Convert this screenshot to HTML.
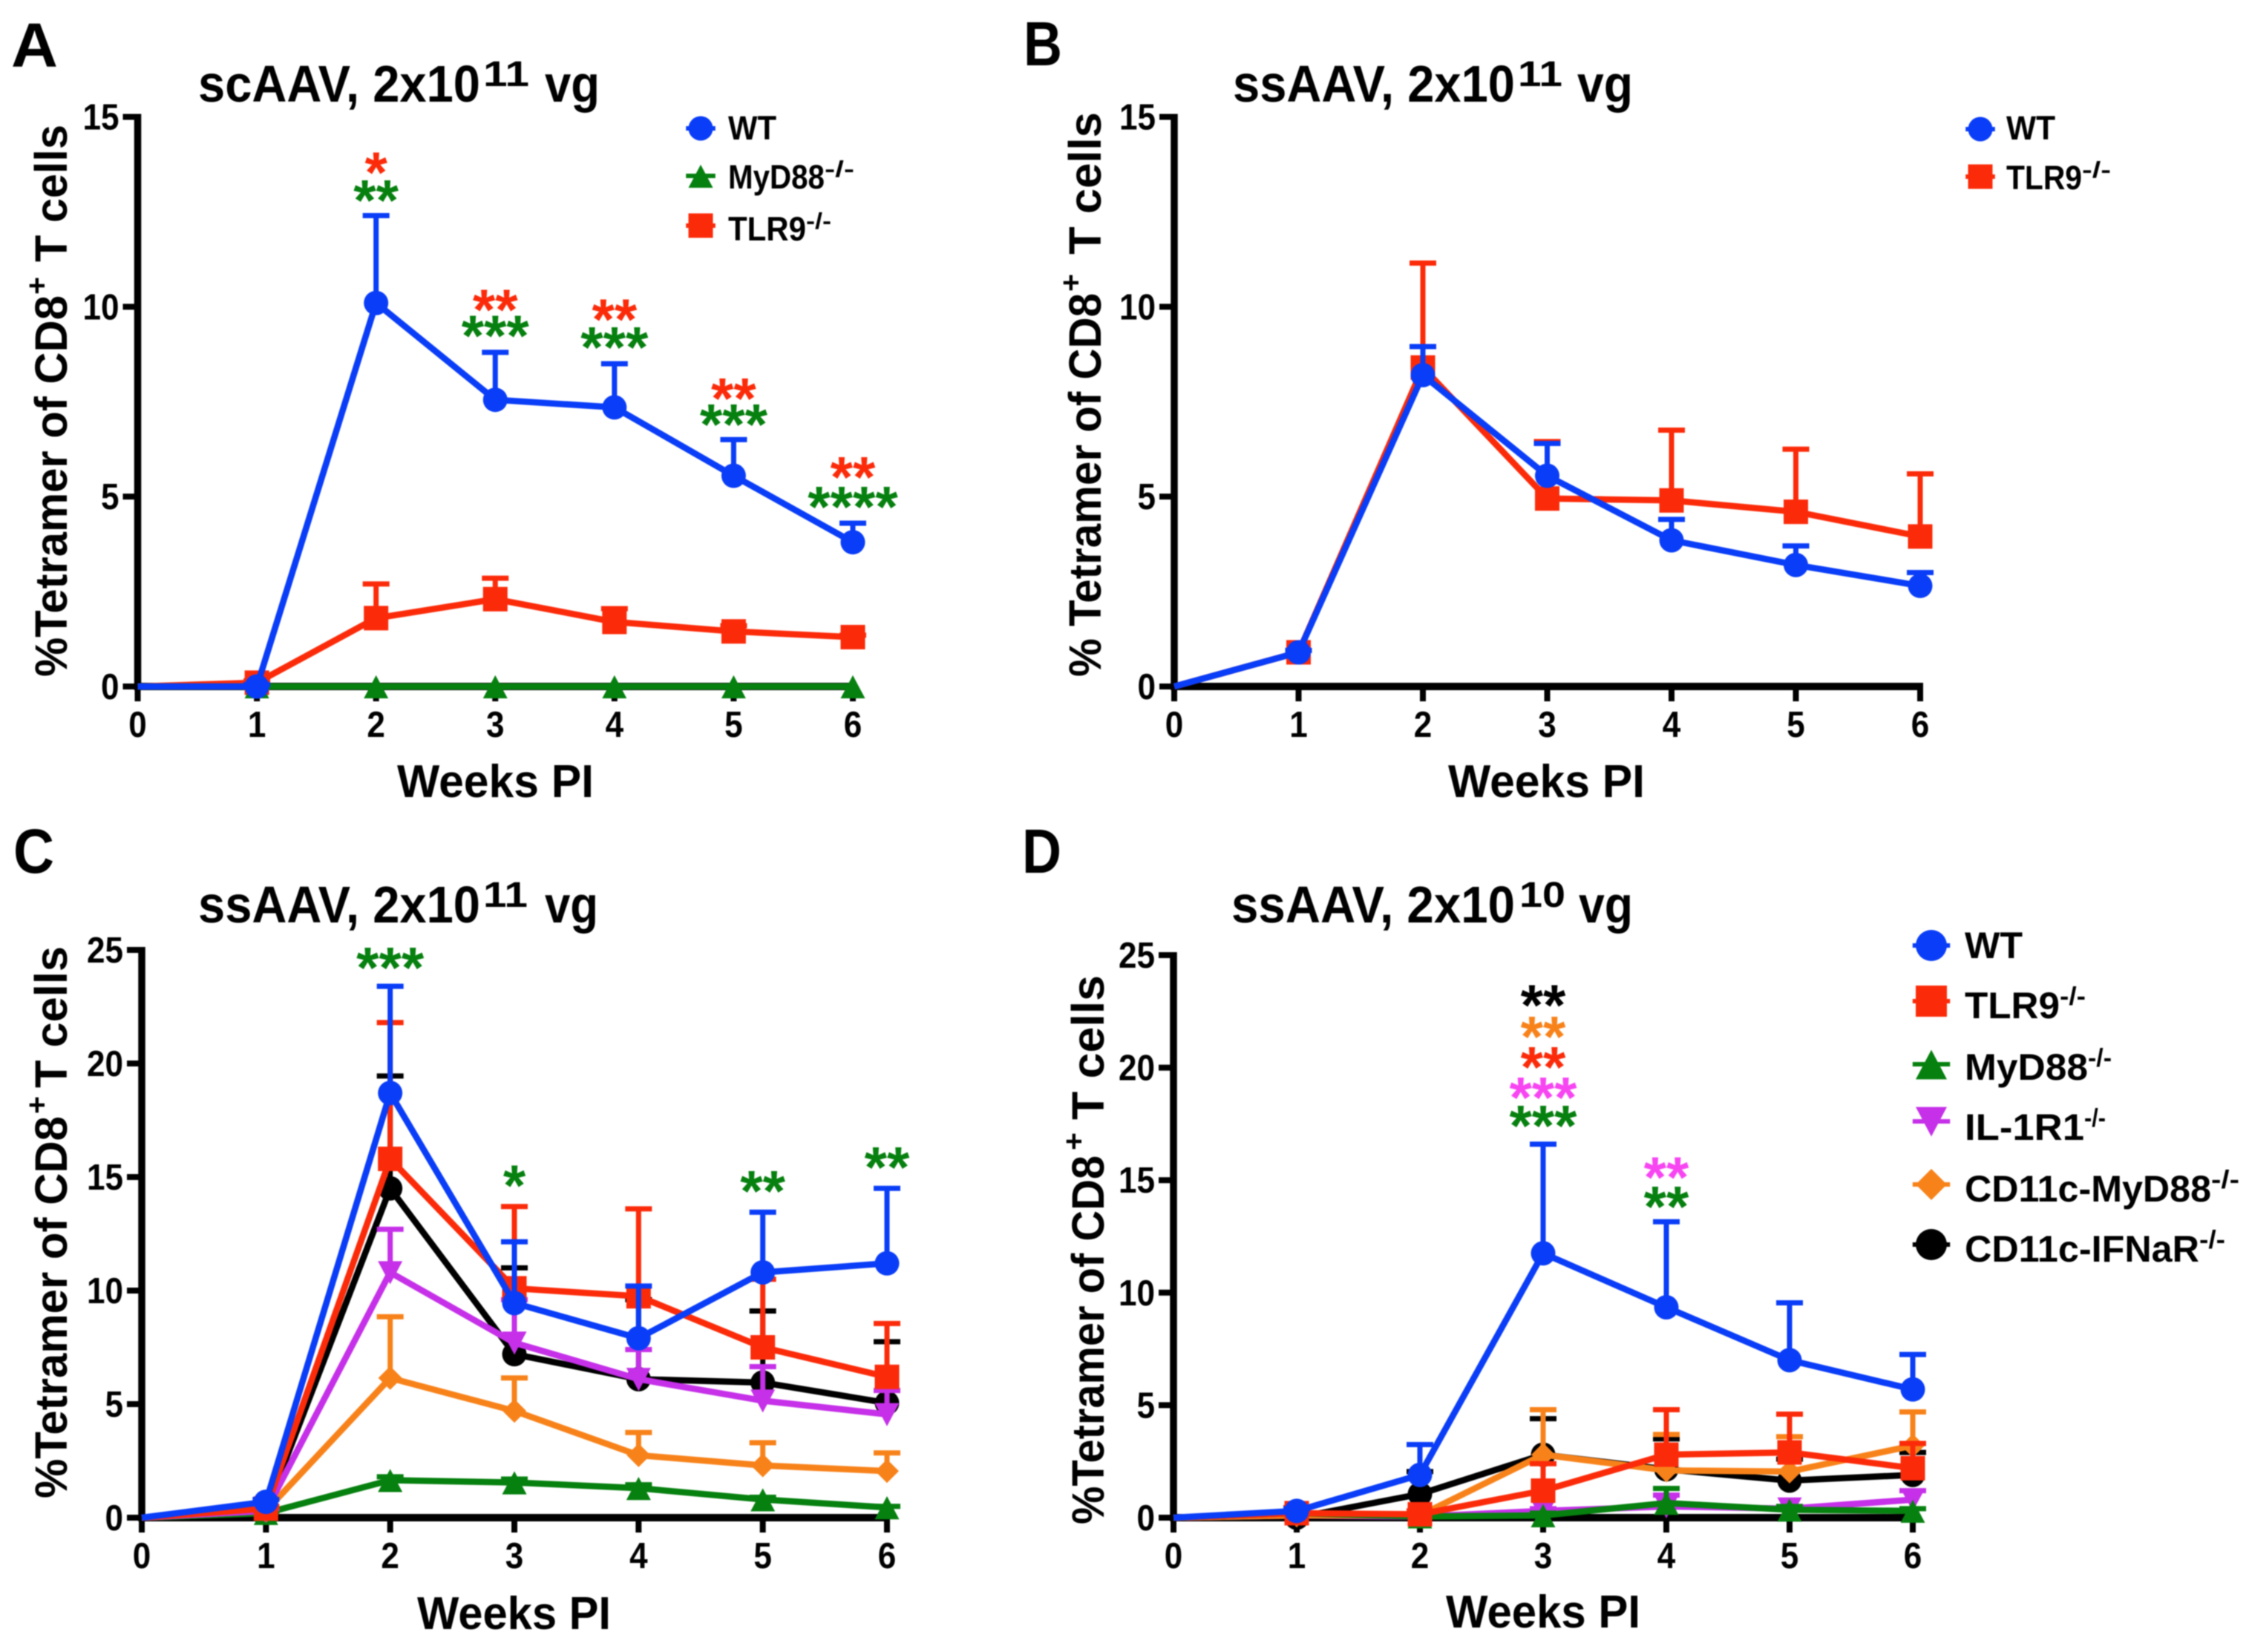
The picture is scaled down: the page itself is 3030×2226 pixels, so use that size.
<!DOCTYPE html>
<html lang="en">
<head>
<meta charset="utf-8">
<title>Tetramer of CD8+ T cells panels</title>
<style>
html,body{margin:0;padding:0;background:#fff;}
svg{display:block;filter:blur(0.8px);}
text{font-family:"Liberation Sans",sans-serif;font-weight:bold;}
</style>
</head>
<body>
<svg id="figure" xmlns="http://www.w3.org/2000/svg" width="3030" height="2226" viewBox="0 0 3030 2226">
<rect width="3030" height="2226" fill="#fff"/>
</svg>
<script>
/* ---------- shared data ---------- */
const weeks = [0,1,2,3,4,5,6];
const yTicksAB = [0,5,10,15];
const yTicksCD = [0,5,10,15,20,25];

/* ---------- panel A ---------- */
const aWT = [0,0,10.1,7.55,7.35,5.55,3.8];
const aWTUpper = [null,0.05,12.4,8.8,8.5,6.5,4.3];
const aTLR9 = [0,0.1,1.8,2.3,1.7,1.45,1.3];
const aTLR9Upper = [null,0.15,2.7,2.85,2.05,1.6,1.35];
const aMyD88 = [0,0,0,0,0,0,0];
const aMyD88Upper = [null,null,null,null,null,null,null];
const aStarWeeks = [2,2,3,3,4,4,5,5,6,6];
const aStarValues = [13.7,12.97,10.08,9.4,9.83,9.1,7.75,7.07,5.68,4.9];
const aStarLabels = ['*','**','**','***','**','***','**','***','**','****'];
const aStarGroups = ['r','g','r','g','r','g','r','g','r','g'];

/* ---------- panel B ---------- */
const bTLR9 = [0,0.9,8.4,4.95,4.9,4.6,3.95];
const bTLR9Upper = [null,0.95,11.15,6.45,6.75,6.25,5.6];
const bWT = [0,0.9,8.2,5.55,3.85,3.2,2.65];
const bWTUpper = [null,0.95,8.95,6.4,4.4,3.7,3.0];

/* ---------- panel C ---------- */
const cWT = [0,0.7,18.7,9.45,7.9,10.8,11.2];
const cWTUpper = [null,0.8,23.4,12.15,10.2,13.45,14.5];
const cTLR9 = [0,0.4,15.8,10.1,9.75,7.5,6.2];
const cTLR9Upper = [null,0.5,21.8,13.7,13.6,10.5,8.55];
const cIFNaR = [0,0.3,14.5,7.2,6.1,5.95,5.05];
const cIFNaRUpper = [null,0.4,19.45,11.0,9.6,9.1,7.75];
const cIL1R1 = [0,0.3,10.8,7.7,6.1,5.15,4.55];
const cIL1R1Upper = [null,0.4,12.7,9.6,7.4,6.65,5.6];
const cCD11cMyD88 = [0,0.3,6.15,4.7,2.75,2.3,2.05];
const cCD11cMyD88Upper = [null,0.4,8.85,6.15,3.75,3.3,2.85];
const cMyD88 = [0,0.2,1.65,1.55,1.3,0.8,0.45];
const cMyD88Upper = [null,0.25,1.8,1.7,1.45,0.9,0.5];
const cStarWeeks = [2,3,5,6];
const cStarValues = [24.5,14.9,14.65,15.7];
const cStarLabels = ['***','*','**','**'];
const cStarGroups = ['g','g','g','g'];

/* ---------- panel D ---------- */
const dWT = [0,0.3,1.9,11.75,9.35,7.0,5.7];
const dWTUpper = [null,0.4,3.25,16.6,13.15,9.55,7.25];
const dTLR9 = [0,0.2,0.15,1.2,2.8,2.9,2.2];
const dTLR9Upper = [null,0.45,0.3,2.4,4.8,4.6,3.3];
const dMyD88 = [0,0.2,0.05,0.1,0.65,0.35,0.3];
const dMyD88Upper = [null,0.25,0.1,0.2,1.3,0.5,0.4];
const dIL1R1 = [0,0.1,0.05,0.3,0.5,0.4,0.8];
const dIL1R1Upper = [null,0.15,0.1,0.4,1.0,0.5,1.2];
const dCD11cMyD88 = [0,0.1,0.1,2.8,2.1,2.05,3.2];
const dCD11cMyD88Upper = [null,0.2,0.2,4.8,3.7,3.6,4.7];
const dIFNaR = [0,0,1.05,2.8,2.15,1.65,1.9];
const dIFNaRUpper = [null,0.05,2.05,4.4,3.5,2.6,2.9];
const dStarWeeks = [3,3,3,3,3,4,4];
const dStarValues = [23.05,21.65,20.3,18.95,17.7,15.4,14.1];
const dStarLabels = ['**','**','**','***','***','**','**'];
const dStarGroups = ['k','o','r','m','g','m','g'];

/* ---------- style ---------- */
const BLUE='#0a3df7', RED='#fb2b0a', GREEN='#06800f', PURPLE='#c530e8', ORANGE='#f8821a', BLACK='#000', MAGENTA='#f745f2';
const starColors = {r:RED,g:GREEN,k:BLACK,o:ORANGE,m:MAGENTA};
const seriesStyle = {
  WT:{color:BLUE,shape:'circle'},
  TLR9:{color:RED,shape:'square'},
  MyD88:{color:GREEN,shape:'tri'},
  IL1R1:{color:PURPLE,shape:'down'},
  CD11cMyD88:{color:ORANGE,shape:'diamond'},
  IFNaR:{color:BLACK,shape:'circle'}
};

const SVG_NS='http://www.w3.org/2000/svg';
const root=document.getElementById('figure');

function make(tag,parent,attrs,name){
  const el=document.createElementNS(SVG_NS,tag);
  for(const k in attrs){el.setAttribute(k,attrs[k]);}
  
  
  parent.appendChild(el);
  return el;
}
function label(parent,str,x,y,size,name,opts){
  opts=opts||{};
  const a={x:x,y:y,'font-size':size,fill:opts.fill||'#000'};
  if(opts.anchor){a['text-anchor']=opts.anchor;}
  if(opts.len){a.textLength=opts.len;a.lengthAdjust='spacingAndGlyphs';}
  const el=make('text',parent,a,name);
  el.textContent=str;
  return el;
}
function marker(parent,shape,cx,cy,s,color,name){
  const r=s/2;
  if(shape==='circle'){return make('circle',parent,{cx:cx,cy:cy,r:r,fill:color},name);}
  if(shape==='square'){return make('rect',parent,{x:cx-r,y:cy-r,width:s,height:s,fill:color},name);}
  let pts;
  if(shape==='tri'){pts=[[cx-r,cy+r*0.97],[cx+r,cy+r*0.97],[cx,cy-r*0.92]];}
  if(shape==='down'){pts=[[cx-r,cy-r*0.92],[cx+r,cy-r*0.92],[cx,cy+r*0.97]];}
  if(shape==='diamond'){pts=[[cx-r,cy],[cx,cy-r],[cx+r,cy],[cx,cy+r]];}
  return make('polygon',parent,{points:pts.map(p=>p.join(',')).join(' '),fill:color},name);
}

function drawPanel(p){
  const g=make('g',root,{},'panel-'+p.id);
  const xScale=v=>p.x0+(v/6)*(p.x6-p.x0);
  const yScale=v=>p.y0-(v/p.yMax)*(p.y0-p.yTop);

  label(g,p.letter,p.letterX,p.letterY,84,'panel-letter',{len:p.letterW});
  label(g,p.titleMain,p.title[0],p.titleY,70,'panel-title',{len:p.title[1]-p.title[0]});
  label(g,p.titleExp,p.title[2],p.titleY-21,48,'panel-title-exponent',{len:p.title[3]-p.title[2]});
  label(g,'vg',p.title[4],p.titleY,70,'panel-title-unit',{len:p.title[5]-p.title[4]});

  /* axes */
  make('line',g,{x1:p.x0,y1:p.yTop-4,x2:p.x0,y2:p.y0+5,stroke:'#000','stroke-width':9.5},'y-axis-line');
  make('line',g,{x1:p.x0-4,y1:p.y0,x2:p.x6+4,y2:p.y0,stroke:'#000','stroke-width':10},'x-axis-line');
  p.yTicks.forEach(function(t){
    const y=yScale(t);
    make('line',g,{x1:p.x0-20,y1:y,x2:p.x0,y2:y,stroke:'#000','stroke-width':8},'y-tick-mark');
    label(g,String(t),p.x0-25,y+17,49,'y-tick-label',{anchor:'end',len:String(t).length*24.5});
  });
  weeks.forEach(function(t){
    const x=xScale(t);
    make('line',g,{x1:x,y1:p.y0,x2:x,y2:p.y0+20,stroke:'#000','stroke-width':8},'x-tick-mark');
    label(g,String(t),x,p.y0+68,49,'x-tick-label',{anchor:'middle',len:24.5});
  });
  label(g,'Weeks PI',p.xTitle[0],p.xTitle[2],62,'x-axis-title',{len:p.xTitle[1]-p.xTitle[0]});

  /* y title, rotated; positions measured along the rotated baseline */
  const yt=make('g',g,{transform:'translate('+p.yTitle.x+','+p.yTitle.bottom+') rotate(-90)'},'y-axis-title');
  label(yt,p.yTitle.main,0,0,61,'y-axis-title-main',{len:p.yTitle.mainLen});
  label(yt,'+',p.yTitle.plus,-27,40,'y-axis-title-plus',{len:p.yTitle.plusLen});
  label(yt,'T cells',p.yTitle.rest,0,61,'y-axis-title-end',{len:p.yTitle.restLen});

  /* series */
  p.series.forEach(function(s){
    const st=seriesStyle[s.key];
    const sg=make('g',g,{},'series-'+s.key);
    s.upper.forEach(function(u,i){
      if(u===null){return;}
      const x=xScale(weeks[i]);
      make('line',sg,{x1:x,y1:yScale(s.values[i]),x2:x,y2:yScale(u),stroke:st.color,'stroke-width':7},'error-bar');
      make('line',sg,{x1:x-18,y1:yScale(u),x2:x+18,y2:yScale(u),stroke:st.color,'stroke-width':7},'error-cap');
    });
    const pts=s.values.map((v,i)=>xScale(weeks[i])+','+yScale(v)).join(' ');
    make('polyline',sg,{points:pts,fill:'none',stroke:st.color,'stroke-width':8.5,'stroke-linejoin':'round'},'series-line');
    s.values.forEach(function(v,i){
      if(i===0){return;}
      marker(sg,st.shape,xScale(weeks[i]),yScale(v),st.shape==='diamond'?32:33,st.color,'data-point');
    });
  });

  /* significance stars */
  p.stars.weeks.forEach(function(w,i){
    label(g,p.stars.labels[i],xScale(w),yScale(p.stars.values[i])+35,78,'significance-stars',{anchor:'middle',fill:starColors[p.stars.groups[i]]});
  });

  /* legend */
  p.legend.forEach(function(e){
    const st=seriesStyle[e.key];
    const lg=make('g',g,{},'legend-entry');
    make('line',lg,{x1:p.legendX-p.legendSize*0.6,y1:e.y,x2:p.legendX+p.legendSize*0.6,y2:e.y,stroke:st.color,'stroke-width':6},'legend-line');
    marker(lg,st.shape,p.legendX,e.y,p.legendSize,st.color,'legend-marker');
    label(lg,e.text,p.legendTextX,e.base,p.legendFont,'legend-label',{len:e.end-p.legendTextX});
    if(e.supEnd){
      label(lg,'-/-',e.end,e.base-p.legendFont*0.36,p.legendFont*0.68,'legend-superscript',{len:e.supEnd-e.end});
    }
  });
}

drawPanel({
  id:'a',letter:'A',letterX:15,letterY:90,letterW:63,
  titleMain:'scAAV, 2x10',titleExp:'11',title:[267,647,651,713,734,808],titleY:137,
  x0:185.5,x6:1149,y0:925,yTop:157.5,yMax:15,yTicks:yTicksAB,
  xTitle:[535,800,1074],
  yTitle:{x:90,bottom:912,main:'%Tetramer of CD8',mainLen:514,plus:515,plusLen:24,rest:559,restLen:185},
  series:[
    {key:'TLR9',values:aTLR9,upper:aTLR9Upper},
    {key:'MyD88',values:aMyD88,upper:aMyD88Upper},
    {key:'WT',values:aWT,upper:aWTUpper}
  ],
  stars:{weeks:aStarWeeks,values:aStarValues,labels:aStarLabels,groups:aStarGroups},
  legendX:944,legendTextX:981,legendFont:45,legendSize:33,
  legend:[
    {key:'WT',text:'WT',y:173,base:188,end:1046},
    {key:'MyD88',text:'MyD88',y:237,base:254,end:1111,supEnd:1151},
    {key:'TLR9',text:'TLR9',y:304,base:324,end:1086,supEnd:1120}
  ]
});

drawPanel({
  id:'b',letter:'B',letterX:1379,letterY:88,letterW:52,
  titleMain:'ssAAV, 2x10',titleExp:'11',title:[1661,2041,2045,2105,2125,2200],titleY:137,
  x0:1582,x6:2587,y0:925,yTop:157.5,yMax:15,yTicks:yTicksAB,
  xTitle:[1951,2216,1074],
  yTitle:{x:1483,bottom:912,main:'% Tetramer of CD8',mainLen:517,plus:519,plusLen:24,rest:569,restLen:192},
  series:[
    {key:'TLR9',values:bTLR9,upper:bTLR9Upper},
    {key:'WT',values:bWT,upper:bWTUpper}
  ],
  stars:{weeks:[],values:[],labels:[],groups:[]},
  legendX:2668,legendTextX:2703,legendFont:45,legendSize:33,
  legend:[
    {key:'WT',text:'WT',y:174,base:188,end:2769},
    {key:'TLR9',text:'TLR9',y:238,base:255,end:2805,supEnd:2844}
  ]
});

drawPanel({
  id:'c',letter:'C',letterX:18,letterY:1176,letterW:55,
  titleMain:'ssAAV, 2x10',titleExp:'11',title:[267,647,651,711,734,806],titleY:1243,
  x0:191,x6:1195,y0:2045,yTop:1280,yMax:25,yTicks:yTicksCD,
  xTitle:[562,823,2195],
  yTitle:{x:90,bottom:2019,main:'%Tetramer of CD8',mainLen:515,plus:518,plusLen:24,rest:553,restLen:191},
  series:[
    {key:'IFNaR',values:cIFNaR,upper:cIFNaRUpper},
    {key:'MyD88',values:cMyD88,upper:cMyD88Upper},
    {key:'CD11cMyD88',values:cCD11cMyD88,upper:cCD11cMyD88Upper},
    {key:'IL1R1',values:cIL1R1,upper:cIL1R1Upper},
    {key:'TLR9',values:cTLR9,upper:cTLR9Upper},
    {key:'WT',values:cWT,upper:cWTUpper}
  ],
  stars:{weeks:cStarWeeks,values:cStarValues,labels:cStarLabels,groups:cStarGroups},
  legendX:0,legendTextX:0,legendFont:42,legendSize:33,
  legend:[]
});

drawPanel({
  id:'d',letter:'D',letterX:1377,letterY:1176,letterW:53,
  titleMain:'ssAAV, 2x10',titleExp:'10',title:[1659,2041,2047,2109,2127,2200],titleY:1243,
  x0:1581,x6:2577,y0:2045,yTop:1287,yMax:25,yTicks:yTicksCD,
  xTitle:[1948,2210,2193],
  yTitle:{x:1487,bottom:2054,main:'%Tetramer of CD8',mainLen:497,plus:504,plusLen:24,rest:545,restLen:195},
  series:[
    {key:'IFNaR',values:dIFNaR,upper:dIFNaRUpper},
    {key:'IL1R1',values:dIL1R1,upper:dIL1R1Upper},
    {key:'CD11cMyD88',values:dCD11cMyD88,upper:dCD11cMyD88Upper},
    {key:'MyD88',values:dMyD88,upper:dMyD88Upper},
    {key:'TLR9',values:dTLR9,upper:dTLR9Upper},
    {key:'WT',values:dWT,upper:dWTUpper}
  ],
  stars:{weeks:dStarWeeks,values:dStarValues,labels:dStarLabels,groups:dStarGroups},
  legendX:2602,legendTextX:2647,legendFont:50,legendSize:42,
  legend:[
    {key:'WT',text:'WT',y:1274,base:1291,end:2725},
    {key:'TLR9',text:'TLR9',y:1349,base:1372,end:2775,supEnd:2810},
    {key:'MyD88',text:'MyD88',y:1434,base:1455,end:2813,supEnd:2845},
    {key:'IL1R1',text:'IL-1R1',y:1511,base:1536,end:2808,supEnd:2837},
    {key:'CD11cMyD88',text:'CD11c-MyD88',y:1596,base:1619,end:2979,supEnd:3017},
    {key:'IFNaR',text:'CD11c-IFNaR',y:1677,base:1700,end:2963,supEnd:2998}
  ]
});
</script>
</body>
</html>
